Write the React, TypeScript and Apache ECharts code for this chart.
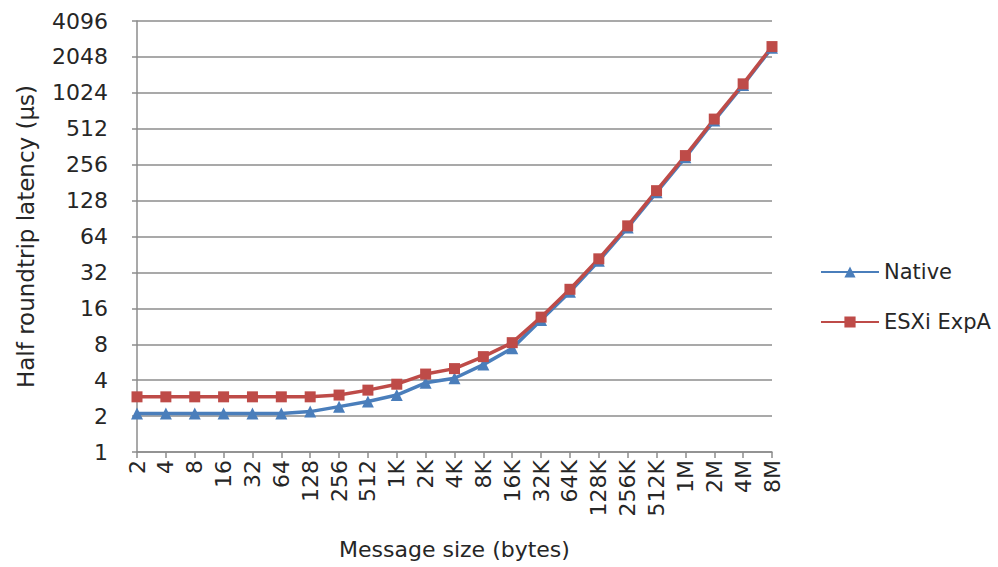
import React, { useEffect, useRef } from "react";
import * as echarts from "echarts";

const categories = ["2","4","8","16","32","64","128","256","512","1K","2K","4K","8K","16K","32K","64K","128K","256K","512K","1M","2M","4M","8M"];
const nativeValues = [2.1,2.1,2.1,2.1,2.1,2.1,2.18,2.4,2.65,3.0,3.8,4.15,5.4,7.4,12.8,22,40,76,150,295,600,1190,2450];
const esxiValues = [2.9,2.9,2.9,2.9,2.9,2.9,2.9,3.0,3.3,3.7,4.5,5.0,6.3,8.25,13.5,23.1,41.6,78.6,155,305,617,1218,2500];
const seriesNames = ["Native", "ESXi ExpA"];

const FONT = "DejaVu Sans";
const TEXT = "#262626";
const GRID = "#8c8c8c";

export default function App() {
  const ref = useRef<HTMLDivElement>(null);
  useEffect(() => {
    if (!ref.current) return;
    const chart = echarts.init(ref.current, null, { renderer: "svg" });
    chart.setOption({
      animation: false,
      backgroundColor: "#ffffff",
      textStyle: { fontFamily: FONT },
      grid: { left: 137, right: 226, top: 21, bottom: 115, containLabel: false },
      legend: {
        orient: "vertical",
        left: 815,
        top: 255,
        itemWidth: 58,
        itemHeight: 14,
        itemGap: 26,
        textStyle: { fontFamily: FONT, fontSize: 21, color: TEXT, lineHeight: 24 },
        data: seriesNames,
      },
      xAxis: {
        type: "category",
        data: categories,
        boundaryGap: false,
        name: "Message size (bytes)",
        nameLocation: "middle",
        nameGap: 86,
        nameTextStyle: { fontFamily: FONT, fontSize: 22, color: TEXT, verticalAlign: "top" },
        axisLine: { lineStyle: { color: GRID, width: 1.5 } },
        axisTick: { show: true, length: 6, interval: 0, lineStyle: { color: GRID, width: 1.5 } },
        axisLabel: {
          interval: 0,
          rotate: 90,
          margin: 8,
          fontFamily: FONT,
          fontSize: 22,
          color: TEXT,
        },
        splitLine: { show: false },
      },
      yAxis: {
        type: "log",
        logBase: 2,
        min: 1,
        max: 4096,
        interval: 1,
        splitNumber: 12,
        name: "Half roundtrip latency (µs)",
        nameLocation: "middle",
        nameGap: 100,
        nameTextStyle: { fontFamily: FONT, fontSize: 23, color: TEXT },
        axisLine: { show: true, lineStyle: { color: GRID, width: 1.5 } },
        axisTick: { show: true, length: 5, lineStyle: { color: GRID, width: 1.5 } },
        axisLabel: {
          margin: 29,
          fontFamily: FONT,
          fontSize: 22,
          color: TEXT,
          formatter: (v: number) => String(Math.round(v)),
        },
        splitLine: { show: true, lineStyle: { color: GRID, width: 1.5 } },
      },
      series: [
        {
          name: seriesNames[0],
          type: "line",
          data: nativeValues,
          symbol: "triangle",
          symbolSize: 12,
          lineStyle: { color: "#4a7ebb", width: 3.5 },
          itemStyle: { color: "#4a7ebb" },
        },
        {
          name: seriesNames[1],
          type: "line",
          data: esxiValues,
          symbol: "rect",
          symbolSize: 11,
          lineStyle: { color: "#be4b48", width: 3.5 },
          itemStyle: { color: "#be4b48" },
        },
      ],
    });
    return () => chart.dispose();
  }, []);
  return (
    <div
      ref={ref}
      style={{ position: "fixed", left: 0, top: 0, width: 998, height: 567, background: "#fff" }}
    />
  );
}
